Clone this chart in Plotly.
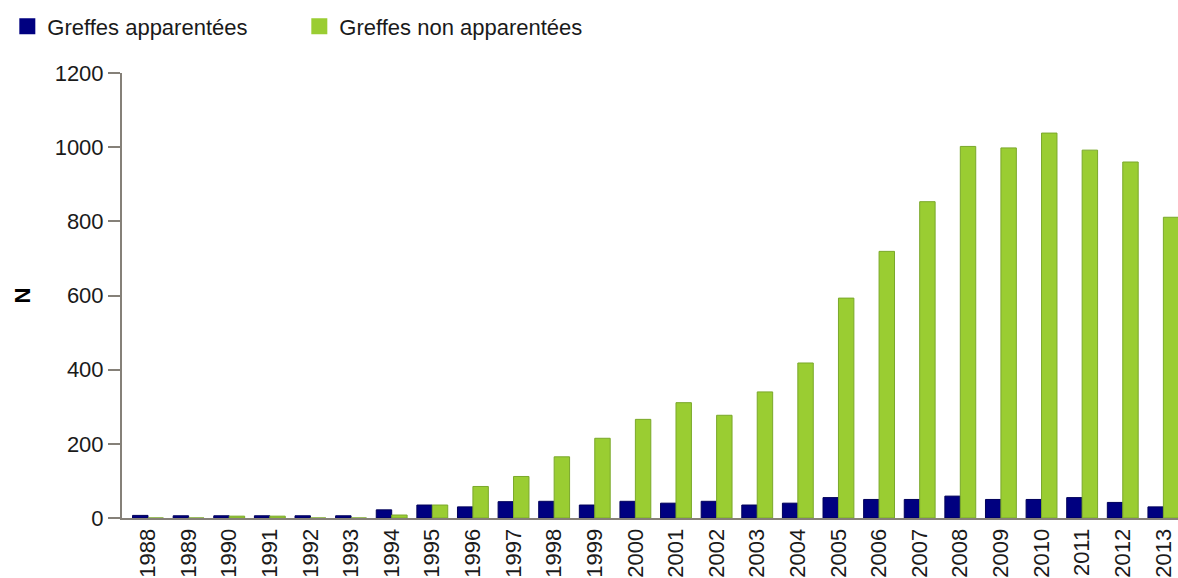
import plotly.graph_objects as go

years = [str(y) for y in range(1988, 2014)]
apparentees = [7, 6, 6, 6, 6, 6, 22, 35, 30, 44, 45, 35, 45, 40, 45, 35, 40, 55, 50,
               50, 59, 50, 50, 55, 42, 30]
non_apparentees = [0, 0, 5, 5, 0, 0, 8, 35, 85, 112, 165, 215, 266, 311, 277, 340,
                   418, 593, 719, 853, 1002, 998, 1038, 992, 960, 811]
y_ticks = [0, 200, 400, 600, 800, 1000, 1200]
series_names = ["Greffes apparentées", "Greffes non apparentées"]
series_colors = ["#000080", "#9acd32"]
series_edges = ["#00005a", "#7aa82a"]

FONT = "Liberation Sans, Arial, sans-serif"
AXIS_COLOR = "#858078"

fig = go.Figure()
for vals, name, col, edge in zip([apparentees, non_apparentees], series_names,
                                 series_colors, series_edges):
    fig.add_trace(go.Bar(
        x=years, y=vals, name=name, legendgroup=name, showlegend=False,
        marker=dict(color=col, line=dict(color=edge, width=1)),
    ))
# legend keys (larger square swatches)
for name, col in zip(series_names, series_colors):
    fig.add_trace(go.Scatter(
        x=[None], y=[None], mode="markers", name=name, legendgroup=name,
        marker=dict(symbol="square", size=16, color=col),
    ))

fig.update_layout(
    width=1178, height=578, autosize=False,
    margin=dict(l=122, r=0, t=73, b=57, pad=0),
    paper_bgcolor="white", plot_bgcolor="white",
    barmode="group", bargap=0.24, bargroupgap=0,
    font=dict(family=FONT, size=22, color="#1a1a1a"),
    legend=dict(
        orientation="h", x=-0.1086, xanchor="left", y=1.152, yanchor="top",
        font=dict(family=FONT, size=22, color="#1a1a1a"),
        entrywidth=247, entrywidthmode="pixels", itemsizing="trace",
        bgcolor="rgba(0,0,0,0)",
    ),
    xaxis=dict(
        type="category", categoryorder="array", categoryarray=years,
        range=[-0.64, 25.36], tickangle=-90,
        showline=True, linecolor=AXIS_COLOR, linewidth=2,
        showgrid=False, ticks="", zeroline=False,
        tickfont=dict(family=FONT, size=22, color="#1a1a1a"),
    ),
    yaxis=dict(
        range=[0, 1200], tickvals=y_ticks, ticktext=[str(v) for v in y_ticks],
        showline=True, linecolor=AXIS_COLOR, linewidth=2,
        ticks="outside", ticklen=12, tickwidth=2, tickcolor=AXIS_COLOR,
        showgrid=False, zeroline=False,
        tickfont=dict(family=FONT, size=22, color="#1a1a1a"),
        title=dict(text="<b>N</b>", standoff=18,
                   font=dict(family=FONT, size=22, color="#000000")),
    ),
)

fig.write_html("out.html", config={"displayModeBar": False},
               post_script="document.body.style.margin='0';document.body.style.overflow='hidden';")
